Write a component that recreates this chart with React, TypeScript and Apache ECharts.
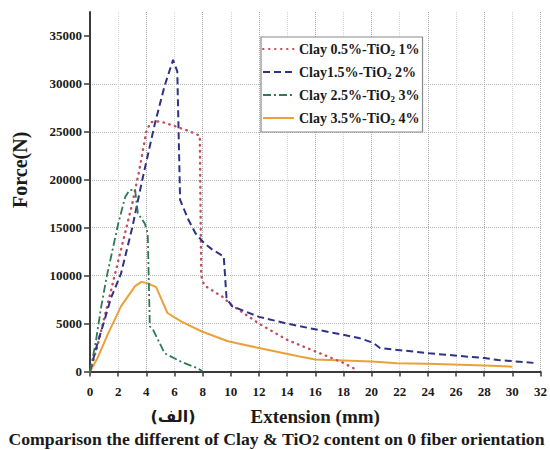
import React, { useEffect, useRef } from 'react';
import * as echarts from 'echarts';

const seriesNames = [
  'Clay 0.5%-TiO2 1%',
  'Clay1.5%-TiO2 2%',
  'Clay 2.5%-TiO2 3%',
  'Clay 3.5%-TiO2 4%',
];

const clay05X = [0, 0.5, 1, 1.5, 2, 2.5, 3, 3.5, 4, 4.3, 5, 6, 7, 7.8, 7.9, 8.1, 9.4, 10, 12, 14, 16, 18, 18.9];
const clay05Y = [0, 2500, 5500, 8500, 11500, 14500, 17500, 21000, 25000, 26000, 26100, 25600, 25100, 24600, 10000, 9000, 7800, 7000, 5000, 3300, 2100, 900, 200];

const clay15X = [0, 0.5, 1, 1.5, 2.2, 3, 3.7, 4.6, 5.3, 5.9, 6.2, 6.4, 7, 7.5, 8.1, 8.7, 9.5, 9.7, 10.1, 12, 14, 16, 19.1, 20.1, 20.6, 24.1, 28, 29, 31.5];
const clay15Y = [0, 2800, 5200, 7700, 10200, 15000, 19900, 25800, 29800, 32500, 31300, 17900, 15800, 14400, 13400, 12700, 12000, 7600, 6800, 5700, 5000, 4400, 3500, 3000, 2450, 1900, 1400, 1200, 900];

const clay25X = [0, 0.4, 0.8, 1.2, 1.5, 2, 2.5, 2.8, 3.2, 3.4, 3.9, 4.1, 4.25, 4.5, 5, 5.3, 6.5, 7.7, 8];
const clay25Y = [0, 3000, 6800, 10000, 12000, 15400, 18200, 18900, 19000, 16500, 15400, 14400, 4700, 4300, 2800, 1900, 1000, 300, 0];

const clay35X = [0, 0.5, 1.3, 2.2, 3.2, 3.65, 4.1, 4.7, 5.5, 6.5, 7.9, 9.8, 12, 14.8, 16, 20, 21.8, 24, 28, 30];
const clay35Y = [0, 1300, 4000, 6800, 8900, 9350, 9200, 8800, 6100, 5200, 4200, 3150, 2450, 1600, 1250, 1050, 850, 800, 620, 500];

const yTickValues = [0, 5000, 10000, 15000, 20000, 25000, 30000, 35000];

const FONT = '"Liberation Serif", "Times New Roman", serif';

export default function App() {
  const ref = useRef<HTMLDivElement>(null);

  useEffect(() => {
    if (!ref.current) return;
    const chart = echarts.init(ref.current, null, { renderer: 'svg' });
    const pairs = (xs: number[], ys: number[]) => xs.map((x, i) => [x, ys[i]]);

    const legendFormatter = (name: string) => {
      const [a, b] = name.split('TiO2');
      return `{n|${a}TiO}{s|2}{n|${b}}`;
    };

    chart.setOption({
      animation: false,
      backgroundColor: '#ffffff',
      grid: { left: 90, right: 7, top: 12, bottom: 78.5, containLabel: false },
      legend: {
        data: seriesNames,
        orient: 'vertical',
        left: 261,
        top: 37,
        itemWidth: 31,
        itemHeight: 14,
        itemGap: 8,
        padding: [5, 3, 6, 1],
        borderColor: '#8a8a8a',
        borderWidth: 1.2,
        backgroundColor: '#ffffff',
        itemStyle: { opacity: 0 },
        formatter: legendFormatter,
        textStyle: {
          fontFamily: FONT,
          fontWeight: 'bold',
          fontSize: 14,
          color: '#1a1a1a',
          rich: {
            n: { fontFamily: FONT, fontWeight: 'bold', fontSize: 14, color: '#1a1a1a', lineHeight: 16 },
            s: { fontFamily: FONT, fontWeight: 'bold', fontSize: 9, color: '#1a1a1a', lineHeight: 9, verticalAlign: 'bottom' },
          },
        },
      },
      xAxis: {
        type: 'value',
        min: 0,
        max: 32,
        interval: 2,
        name: 'Extension (mm)',
        nameLocation: 'middle',
        nameGap: 35,
        nameTextStyle: { fontFamily: FONT, fontWeight: 'bold', fontSize: 19, lineHeight: 19, color: '#1a1a1a' },
        axisLine: { onZero: false, lineStyle: { color: '#3a3a3a', width: 2 } },
        axisTick: { show: true, length: 5, lineStyle: { color: '#3a3a3a', width: 1.5 } },
        axisLabel: { margin: 13, fontFamily: FONT, fontWeight: 'bold', fontSize: 13, color: '#1a1a1a' },
        splitLine: { show: true, lineStyle: { type: 'dotted', color: ['#a8a8a8', '#d4d4d4'], width: 1 } },
      },
      yAxis: {
        type: 'value',
        min: 0,
        max: 37500,
        interval: 5000,
        name: 'Force(N)',
        nameLocation: 'middle',
        nameRotate: 90,
        nameGap: 60,
        nameTextStyle: { fontFamily: FONT, fontWeight: 'bold', fontSize: 20, color: '#1a1a1a', padding: [0, 0, 0, 44] },
        axisLine: { show: true, lineStyle: { color: '#3a3a3a', width: 2 } },
        axisTick: { show: true, length: 6, customValues: yTickValues, lineStyle: { color: '#3a3a3a', width: 1.5 } },
        axisLabel: {
          margin: 8,
          customValues: yTickValues,
          formatter: (v: number) => String(v),
          fontFamily: FONT,
          fontWeight: 'bold',
          fontSize: 13,
          color: '#1a1a1a',
        },
        splitLine: { show: true, showMaxLine: false, lineStyle: { type: 'dotted', color: '#b8b8b8', width: 1 } },
      },
      graphic: [
        {
          type: 'text',
          x: 173,
          y: 416,
          style: {
            text: '(الف)',
            font: 'bold 16px "DejaVu Sans", sans-serif',
            lineHeight: 18,
            fill: '#1a1a1a',
            align: 'center',
            verticalAlign: 'middle',
          },
        },
        {
          type: 'text',
          x: 276.5,
          y: 438.5,
          style: {
            text: '{n|Comparison the different of Clay & TiO}{s|2}{n| content on 0 fiber orientation}',
            align: 'center',
            verticalAlign: 'middle',
            fill: '#1a1a1a',
            rich: {
              n: { fontFamily: FONT, fontWeight: 'bold', fontSize: 17.7, fill: '#1a1a1a', lineHeight: 17 },
              s: { fontFamily: FONT, fontWeight: 'bold', fontSize: 14, fill: '#1a1a1a', lineHeight: 13, verticalAlign: 'bottom' },
            },
          },
        },
      ],
      series: [
        {
          name: seriesNames[0],
          type: 'line',
          data: pairs(clay05X, clay05Y),
          symbol: 'none',
          lineStyle: { color: '#c24f5c', width: 2.4, type: [0.5, 5.5], cap: 'round' },
          itemStyle: { color: '#c24f5c' },
          z: 3,
        },
        {
          name: seriesNames[1],
          type: 'line',
          data: pairs(clay15X, clay15Y),
          symbol: 'none',
          lineStyle: { color: '#2f3285', width: 2, type: [7, 4] },
          itemStyle: { color: '#2f3285' },
          z: 4,
        },
        {
          name: seriesNames[2],
          type: 'line',
          data: pairs(clay25X, clay25Y),
          symbol: 'none',
          lineStyle: { color: '#2e7a52', width: 1.8, type: [8, 3, 2, 3] },
          itemStyle: { color: '#2e7a52' },
          z: 5,
        },
        {
          name: seriesNames[3],
          type: 'line',
          data: pairs(clay35X, clay35Y),
          symbol: 'none',
          lineStyle: { color: '#eba13a', width: 2 },
          itemStyle: { color: '#eba13a' },
          z: 2,
        },
      ],
    });

    return () => chart.dispose();
  }, []);

  return (
    <div
      ref={ref}
      style={{ width: 550, height: 450, position: 'absolute', left: 0, top: 0 }}
    />
  );
}
